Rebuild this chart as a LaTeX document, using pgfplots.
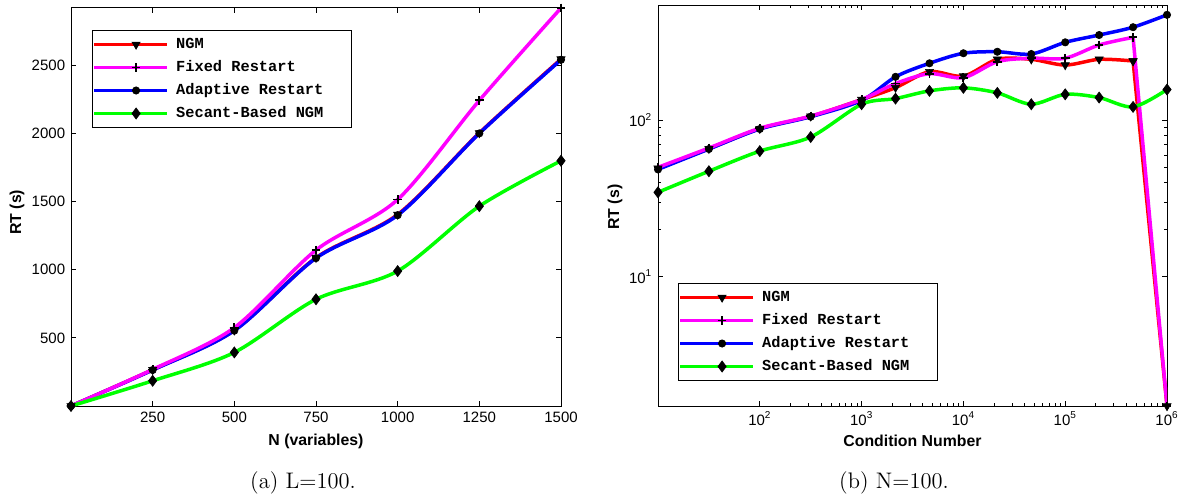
\documentclass[border=0pt]{standalone}
\usepackage{fontspec}
\usepackage{pgfplots}
\pgfplotsset{compat=1.18}
\newfontfamily\helv{Liberation Sans}
\newfontfamily\cour{Liberation Mono}
\definecolor{mgreen}{rgb}{0,1,0}
\definecolor{mmag}{rgb}{1,0,1}

\pgfplotsset{
 mystyle/.style={
  scale only axis,
  axis line style={line width=0.6pt},
  every tick/.style={black, line width=0.5pt},
  major tick length=3pt, minor tick length=1.8pt,
  tick label style={font=\helv\fontsize{9}{10}\selectfont},
  /pgf/number format/assume math mode=true,
  /pgf/number format/1000 sep={},
  label style={font=\helv\bfseries\fontsize{9.5}{11}\selectfont},
  legend cell align=left,
  legend style={font=\cour\bfseries\fontsize{9.2}{11}\selectfont, draw=black, line width=0.6pt,
    inner xsep=0pt, inner ysep=1.5pt, row sep=0pt, column sep=4.5pt,
    nodes={inner sep=0pt, text height=9.2pt, text depth=4.6pt}},
  legend image code/.code={
    \path (0pt,0pt) -- (43.6pt,0pt);
    \draw[mark repeat=2,mark phase=2] plot coordinates {(6.6pt,0pt) (25.1pt,0pt) (43.6pt,0pt)};},
 },
 ngm/.style={red, line width=2.1pt, mark=triangle*, mark size=2.8pt, mark options={black, fill=black, rotate=180, line width=0.4pt}},
 fix/.style={mmag, line width=2.1pt, mark=+, mark size=2.6pt, mark options={black, line width=1.1pt}},
 ada/.style={blue, line width=2.1pt, mark=*, mark size=2.2pt, mark options={black, fill=black, line width=0.4pt}},
 sec/.style={mgreen, line width=2.1pt, mark=diamond*, mark size=3.3pt, mark options={black, fill=black, line width=0.4pt}},
}

\begin{document}
\begin{tikzpicture}
\path[use as bounding box] (-42.6pt,-57pt) rectangle (666.6pt,243.6pt);

\begin{axis}[mystyle,
  at={(0pt,0pt)}, anchor=south west,
  width=294pt, height=238.8pt,
  xmin=0, xmax=1500, ymin=0, ymax=2920,
  xtick={250,500,750,1000,1250,1500},
  ytick={500,1000,1500,2000,2500},
  xlabel={N (variables)}, ylabel={RT (s)},
  x label style={at={(axis description cs:0.5,-0.0879)}, anchor=center},
  y label style={at={(axis description cs:-0.1102,0.487)}, anchor=center},
  legend style={at={(axis description cs:0,1)}, anchor=north west, xshift=12.6pt, yshift=-13.2pt},
]
\addlegendimage{ngm}\addlegendentry{NGM}
\addlegendimage{fix}\addlegendentry{Fixed Restart}
\addlegendimage{ada}\addlegendentry{Adaptive Restart}
\addlegendimage{sec}\addlegendentry{Secant-Based NGM\hspace*{17pt}}

\addplot[ngm, smooth, forget plot] coordinates {(0,0) (250,266) (500,555) (750,1088) (1000,1405) (1250,2003) (1500,2545)};
\addplot[ada, smooth, forget plot] coordinates {(0,0) (250,264) (500,553) (750,1085) (1000,1400) (1250,2000) (1500,2540)};
\addplot[fix, smooth, forget plot] coordinates {(0,0) (250,268) (500,575) (750,1144) (1000,1515) (1250,2242) (1500,2920)};
\addplot[sec, smooth, forget plot] coordinates {(0,0) (250,185) (500,393) (750,783) (1000,990) (1250,1466) (1500,1799)};
\end{axis}

\begin{axis}[mystyle,
  at={(352.2pt,0pt)}, anchor=south west,
  width=305.4pt, height=240.6pt,
  xmode=log, ymode=log,
  xmin=10, xmax=1000000, ymin=1.48, ymax=548,
  xtick={100,1000,10000,100000,1000000},
  xticklabels={10\textsuperscript{2},10\textsuperscript{3},10\textsuperscript{4},10\textsuperscript{5},10\textsuperscript{6}},
  ytick={10,100},
  yticklabels={10\textsuperscript{1},10\textsuperscript{2}},
  xlabel={Condition Number}, ylabel={RT (s)},
  x label style={at={(axis description cs:0.5,-0.0873)}, anchor=center},
  y label style={at={(axis description cs:-0.0845,0.496)}, anchor=center},
  legend style={at={(axis description cs:0,0)}, anchor=south west, xshift=12pt, yshift=15pt},
]
\addlegendimage{ngm}\addlegendentry{NGM}
\addlegendimage{fix}\addlegendentry{Fixed Restart}
\addlegendimage{ada}\addlegendentry{Adaptive Restart}
\addlegendimage{sec}\addlegendentry{Secant-Based NGM\hspace*{17pt}}

\addplot[ngm, smooth, forget plot] coordinates {(10,49.3) (31.62,65.8) (100,88.4) (316.2,106.1) (1000,135.8) (2154,162) (4642,205) (10000,192) (21544,246) (46416,246) (100000,226) (215443,246) (464159,240)};
\addplot[ngm, forget plot] coordinates {(464159,240) (1000000,1.48)};
\addplot[ada, smooth, forget plot] coordinates {(10,48.5) (31.62,65.5) (100,88) (316.2,105.5) (1000,134) (2154,190) (4642,232) (10000,269) (21544,275) (46416,266) (100000,316) (215443,352) (464159,395) (1000000,474)};
\addplot[fix, smooth, forget plot] coordinates {(10,50) (31.62,66.5) (100,89) (316.2,106.5) (1000,136) (2154,172) (4642,199) (10000,187.5) (21544,237.6) (46416,250) (100000,250) (215443,304) (464159,340)};
\addplot[fix, forget plot] coordinates {(464159,340) (1000000,1.48)};
\addplot[sec, smooth, forget plot] coordinates {(10,34.6) (31.62,47.2) (100,63.5) (316.2,78.2) (1000,126.8) (2154,137.8) (4642,154.5) (10000,161.5) (21544,150) (46416,126.8) (100000,146.8) (215443,139.9) (464159,121.9) (1000000,157.5)};
\end{axis}

\node[font=\fontsize{13.5}{16}\selectfont] at (139.2pt,-46.2pt) {(a) L=100.};
\node[font=\fontsize{13.5}{16}\selectfont] at (493.8pt,-46.2pt) {(b) N=100.};
\end{tikzpicture}
\end{document}
